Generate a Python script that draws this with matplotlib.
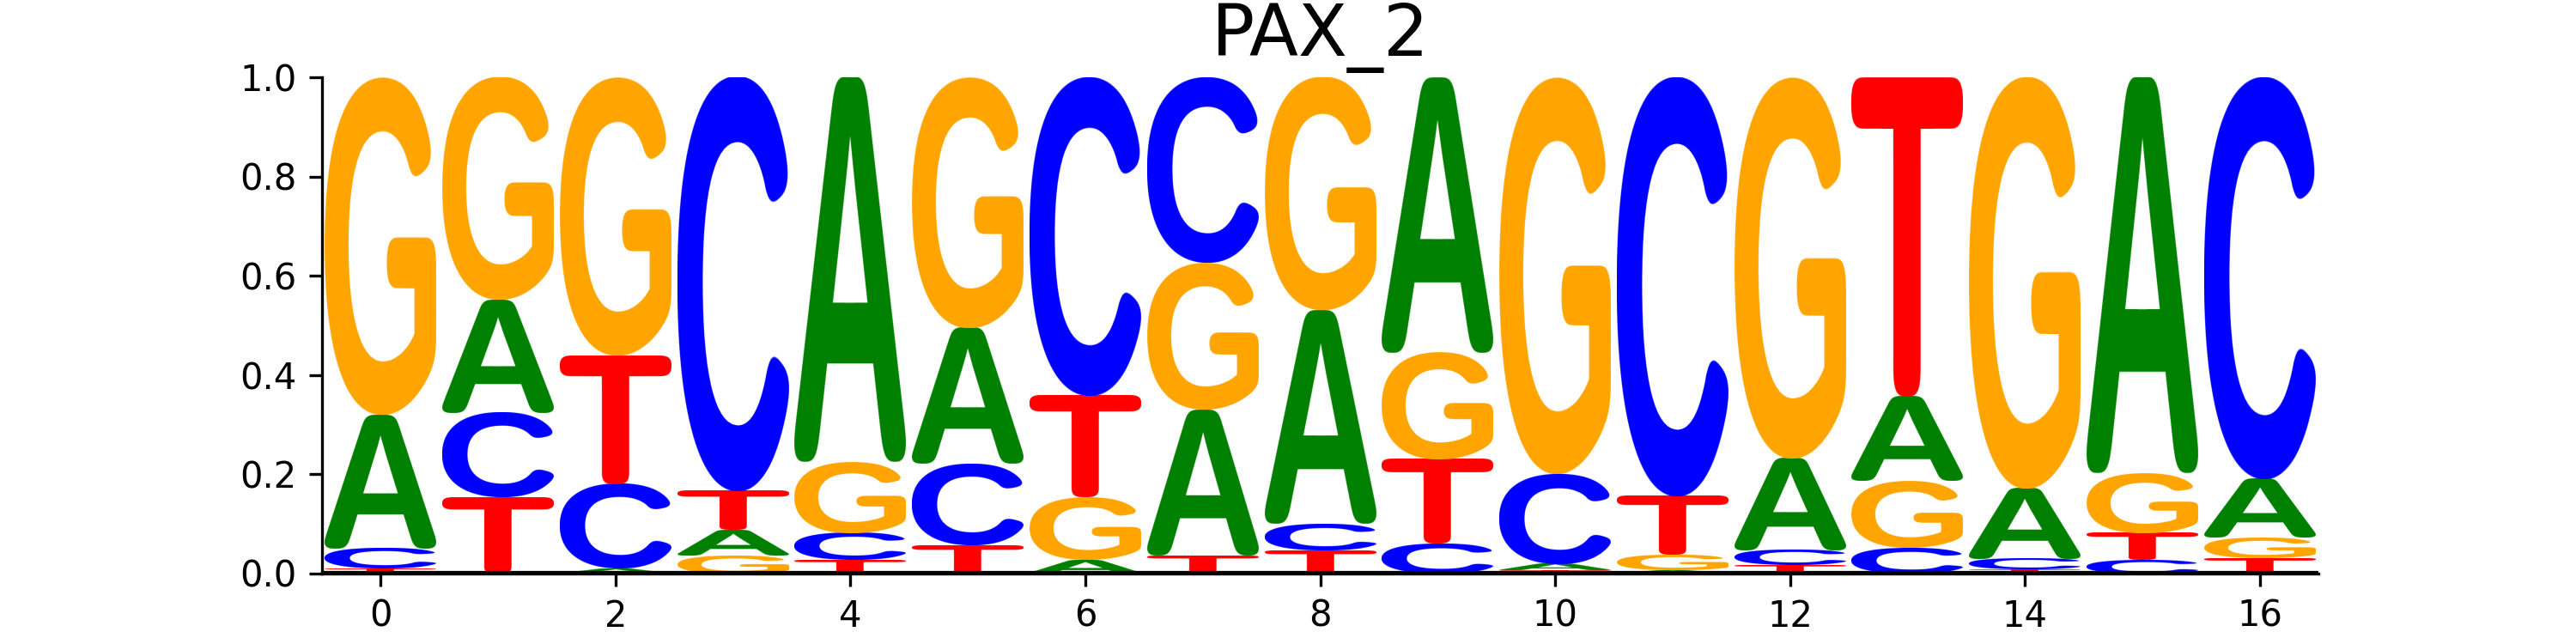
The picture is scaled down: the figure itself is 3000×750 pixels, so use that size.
import matplotlib
matplotlib.use("Agg")
import matplotlib.pyplot as plt
import numpy as np
from matplotlib.figure import Figure
from matplotlib.backends.backend_agg import FigureCanvasAgg
from matplotlib.patches import PathPatch
from matplotlib.textpath import TextPath
from matplotlib.font_manager import FontProperties
from matplotlib.colors import to_rgb

# probabilities per position (0..16)
positions = list(range(17))
A = [0.270, 0.228, 0.010, 0.051, 0.776, 0.275, 0.027, 0.294, 0.431, 0.555, 0.013, 0.006, 0.186, 0.170, 0.142, 0.799, 0.118]
C = [0.040, 0.170, 0.170, 0.835, 0.055, 0.164, 0.642, 0.374, 0.053, 0.060, 0.181, 0.845, 0.030, 0.051, 0.021, 0.027, 0.810]
G = [0.680, 0.449, 0.561, 0.036, 0.143, 0.505, 0.126, 0.296, 0.470, 0.215, 0.800, 0.031, 0.768, 0.135, 0.830, 0.120, 0.041]
T = [0.010, 0.153, 0.259, 0.078, 0.026, 0.056, 0.205, 0.036, 0.046, 0.170, 0.006, 0.118, 0.016, 0.644, 0.007, 0.054, 0.031]

colors = {"A": "green", "C": "blue", "G": "orange", "T": "red"}
fp = FontProperties(family="Liberation Sans", weight="bold")


def glyph_image(ch, color, n=600, sigma_frac=0.03):
    # draw the letter offscreen with Agg, then blur + threshold (kept inside
    # the original shape) so the outer corners come out rounded
    path = TextPath((0, 0), ch, size=1, prop=fp)
    ext = path.get_extents()
    pad = 0.12 * ext.height
    scale = n / (ext.height + 2 * pad)
    nx = int(round((ext.width + 2 * pad) * scale))

    f = Figure(figsize=(nx / 100, n / 100), dpi=100)
    canvas = FigureCanvasAgg(f)
    a = f.add_axes([0, 0, 1, 1])
    a.axis("off")
    a.add_patch(PathPatch(path, fc="black", ec="none"))
    a.set_xlim(ext.x0 - pad, ext.x1 + pad)
    a.set_ylim(ext.y0 - pad, ext.y1 + pad)
    canvas.draw()
    buf = np.asarray(canvas.buffer_rgba()).astype(float)
    m0 = (1 - buf[..., 0] / 255.0)[::-1]  # row 0 = bottom

    s = sigma_frac * n
    k = np.arange(-int(3 * s), int(3 * s) + 1)
    g = np.exp(-0.5 * (k / s) ** 2)
    g /= g.sum()
    m = np.apply_along_axis(lambda r: np.convolve(r, g, mode="same"), 1, m0)
    m = np.apply_along_axis(lambda r: np.convolve(r, g, mode="same"), 0, m)
    alpha = np.minimum(np.clip((m - 0.5) * 30 + 0.5, 0, 1), m0)

    rows = np.where(alpha.max(axis=1) > 0.5)[0]
    cols = np.where(alpha.max(axis=0) > 0.5)[0]
    alpha = alpha[rows[0]:rows[-1] + 1, cols[0]:cols[-1] + 1]
    rgba = np.zeros(alpha.shape + (4,))
    rgba[..., :3] = to_rgb(color)
    rgba[..., 3] = alpha
    return rgba


glyphs = {ch: glyph_image(ch, colors[ch]) for ch in colors}

fig, ax = plt.subplots(figsize=(10, 2.5), dpi=300)

width = 0.95
for i in positions:
    vals = {"A": A[i], "C": C[i], "G": G[i], "T": T[i]}
    y = 0.0
    for ch in sorted(vals, key=lambda k: vals[k]):  # smallest at bottom
        h = vals[ch]
        ax.imshow(glyphs[ch], origin="lower", aspect="auto",
                  extent=(i - width / 2, i + width / 2, y, y + h),
                  interpolation="antialiased", zorder=2)
        y += h

ax.axhline(0, color="black", lw=1.5, zorder=5)
ax.set_xlim(-0.5, 16.5)
ax.set_ylim(0, 1)
ax.set_aspect("auto")
ax.set_xticks(range(0, 17, 2))
ax.set_yticks(np.arange(0, 1.01, 0.2))
ax.spines["top"].set_visible(False)
ax.spines["right"].set_visible(False)
ax.set_title("PAX_2", fontsize=20)

plt.savefig("out.png")
